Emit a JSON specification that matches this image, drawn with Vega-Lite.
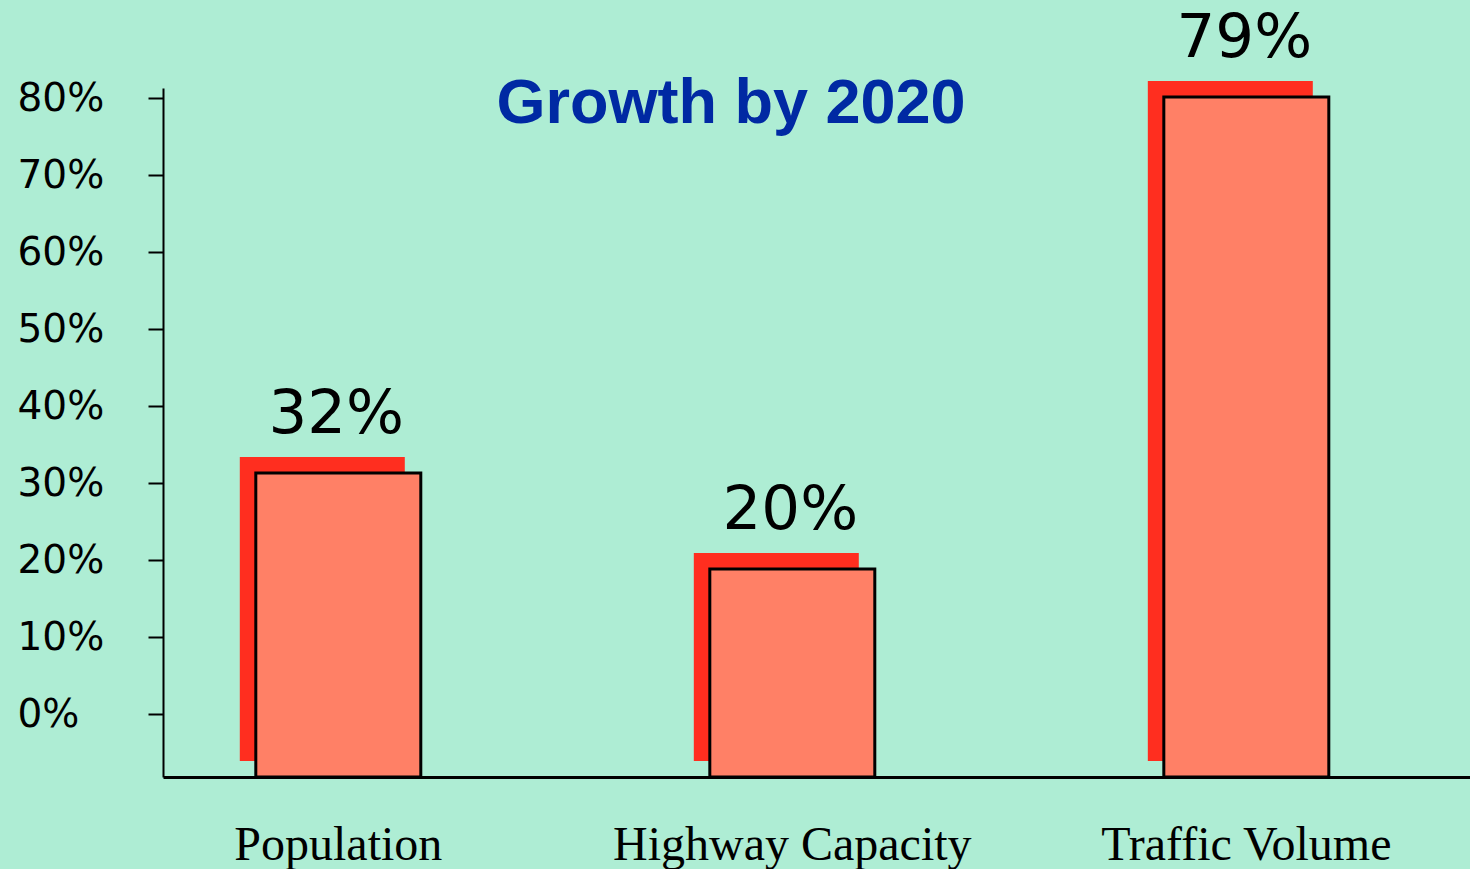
{
  "$schema": "https://vega.github.io/schema/vega-lite/v6.json",
  "width": 1307,
  "height": 689,
  "autosize": {"type": "none"},
  "padding": {"left": 163, "top": 88, "right": 0, "bottom": 92},
  "background": "#AEEDD4",
  "config": {"view": {"stroke": null}},
  "title": {
    "text": "Growth by 2020",
    "font": "Liberation Sans",
    "fontSize": 63,
    "fontWeight": "bold",
    "color": "#0029A3",
    "anchor": "middle",
    "frame": "group",
    "baseline": "alphabetic",
    "offset": -135,
    "dx": -85.5,
    "dy": 43
  },
  "data": {
    "values": [
      {"item": "Population", "growth": 0.32},
      {"item": "Highway Capacity", "growth": 0.20},
      {"item": "Traffic Volume", "growth": 0.79}
    ]
  },
  "resolve": {"scale": {"y": "independent"}},
  "layer": [
    {
      "mark": {"type": "rule", "opacity": 0},
      "encoding": {
        "y": {
          "datum": 0,
          "type": "quantitative",
          "scale": {"domain": [-0.0818, 0.813], "nice": false, "zero": false},
          "axis": {
            "orient": "left",
            "values": [0, 0.1, 0.2, 0.3, 0.4, 0.5, 0.6, 0.7, 0.8],
            "format": ".0%",
            "title": null,
            "grid": false,
            "domainWidth": 2,
            "domainColor": "black",
            "tickColor": "black",
            "tickWidth": 2,
            "tickSize": 15,
            "labelAlign": "left",
            "labelBaseline": "middle",
            "labelPadding": 131,
            "labelFont": "DejaVu Sans",
            "labelFontSize": 39,
            "labelColor": "black",
            "labelOverlap": false,
            "labelFlush": false,
            "labelBound": false
          }
        }
      }
    },
    {
      "mark": {"type": "bar", "fill": "#FF2E1F", "xOffset": -16, "yOffset": -16, "y2Offset": -16},
      "encoding": {
        "x": {
          "field": "item", "type": "nominal", "sort": null,
          "scale": {"paddingInner": 0.6366, "paddingOuter": 0.2577, "align": 0.3966},
          "axis": {"title": null, "domainWidth": 3, "domainColor": "black", "ticks": false, "tickSize": 0, "labelFont": "Liberation Serif", "labelFontSize": 48, "labelColor": "black", "labelPadding": 44, "labelAngle": 0, "labelLimit": 0}
        },
        "y": {"field": "growth", "type": "quantitative", "scale": {"domain": [-0.0601, 0.8011], "nice": false, "zero": false}, "axis": null},
        "y2": {"datum": -0.0601}
      }
    },
    {
      "mark": {"type": "bar", "fill": "#FF8066", "stroke": "black", "strokeWidth": 3},
      "encoding": {
        "x": {
          "field": "item", "type": "nominal", "sort": null,
          "scale": {"paddingInner": 0.6366, "paddingOuter": 0.2577, "align": 0.3966},
          "axis": {"title": null, "domainWidth": 3, "domainColor": "black", "ticks": false, "tickSize": 0, "labelFont": "Liberation Serif", "labelFontSize": 48, "labelColor": "black", "labelPadding": 44, "labelAngle": 0, "labelLimit": 0}
        },
        "y": {"field": "growth", "type": "quantitative", "scale": {"domain": [-0.0601, 0.8011], "nice": false, "zero": false}, "axis": null},
        "y2": {"datum": -0.0601}
      }
    },
    {
      "mark": {"type": "text", "font": "DejaVu Sans", "fontSize": 61, "baseline": "alphabetic", "dy": -40, "dx": -2, "color": "black"},
      "encoding": {
        "x": {
          "field": "item", "type": "nominal", "sort": null,
          "scale": {"paddingInner": 0.6366, "paddingOuter": 0.2577, "align": 0.3966},
          "axis": {"title": null, "domainWidth": 3, "domainColor": "black", "ticks": false, "tickSize": 0, "labelFont": "Liberation Serif", "labelFontSize": 48, "labelColor": "black", "labelPadding": 44, "labelAngle": 0, "labelLimit": 0}
        },
        "y": {"field": "growth", "type": "quantitative", "scale": {"domain": [-0.0601, 0.8011], "nice": false, "zero": false}, "axis": null},
        "text": {"field": "growth", "type": "quantitative", "format": ".0%"}
      }
    }
  ]
}
